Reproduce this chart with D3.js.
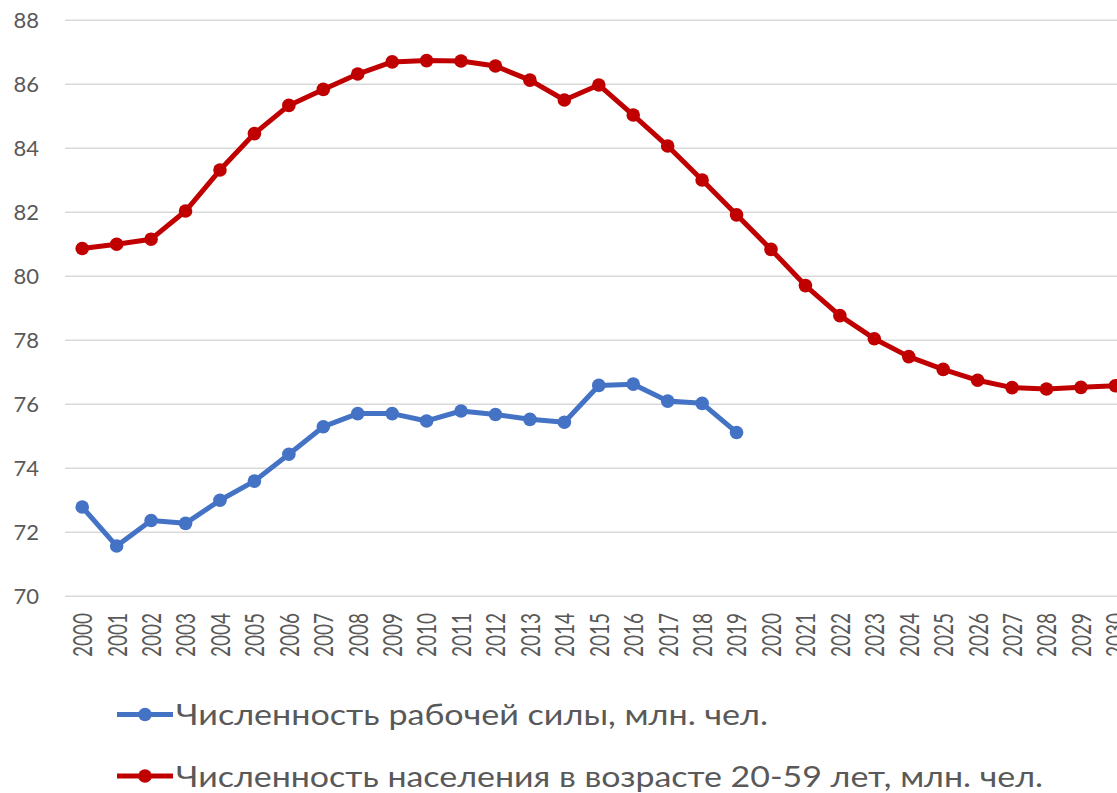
<!DOCTYPE html>
<html>
<head>
<meta charset="utf-8">
<script src="https://cdn.jsdelivr.net/npm/d3@7"></script>
<style>
  body { margin: 0; background: #fff; }
  svg { display: block; }
  text { font-family: Lato, "Open Sans", sans-serif; fill: #595959; }
</style>
</head>
<body>
<svg id="chart" width="1117" height="793"></svg>
<script>
`use strict`;

const years = d3.range(2000, 2031).map(String);

// Численность рабочей силы (2000-2019)
const labourForce = [72.79, 71.57, 72.37, 72.28, 73.00, 73.60, 74.44, 75.30, 75.71, 75.71,
  75.48, 75.79, 75.68, 75.53, 75.44, 76.59, 76.63, 76.10, 76.03, 75.12];

// Численность населения 20-59 лет (2000-2030)
const population = [80.87, 81.00, 81.16, 82.04, 83.32, 84.46, 85.34, 85.84, 86.32, 86.70,
  86.74, 86.73, 86.57, 86.13, 85.51, 85.98, 85.04, 84.07, 83.01, 81.92,
  80.84, 79.71, 78.77, 78.05, 77.49, 77.09, 76.75, 76.52, 76.48, 76.53, 76.58];

const yTicks = [70, 72, 74, 76, 78, 80, 82, 84, 86, 88];

const legendNames = [`Численность рабочей силы, млн. чел.`, `Численность населения в возрасте 20-59 лет, млн. чел.`];

const BLUE = `#4472C4`, RED = `#C00000`;

(function () {

  const svg = d3.select(`#chart`);

  const x = d3.scalePoint()
    .domain(years)
    .range([65, 1132.6])
    .padding(0.5);

  const y = d3.scaleLinear()
    .domain([70, 88])
    .range([596.3, 20.3]);

  // grid
  svg.append(`g`).selectAll(`line`).data(yTicks)
    .enter()
    .append(`line`)
    .attr(`x1`, 65)
    .attr(`x2`, 1133)
    .attr(`y1`, d => y(d))
    .attr(`y2`, d => y(d))
    .attr(`stroke`, `#d9d9d9`)
    .style(`stroke-width`, 1.4);

  // y labels
  let yAxis = svg.append(`g`)
    .attr(`transform`, `translate(39,0)`)
    .call(d3.axisLeft(y).tickValues(yTicks).tickSize(0).tickPadding(0));

  yAxis.select(`.domain`).remove();

  yAxis.selectAll(`text`)
    .style(`font-size`, `22px`)
    .style(`font-family`, `Lato, sans-serif`)
    .attr(`fill`, `#595959`);

  // x labels
  let xAxis = svg.append(`g`)
    .attr(`transform`, `translate(0,613)`)
    .call(d3.axisBottom(x).tickSize(0).tickPadding(0));

  xAxis.select(`.domain`).remove();

  xAxis.selectAll(`text`)
    .attr(`y`, 0)
    .attr(`dy`, `0.36em`)
    .attr(`transform`, `rotate(-90) scale(1,1.37)`)
    .style(`text-anchor`, `end`)
    .style(`font-size`, `19px`)
    .style(`font-family`, `Lato, sans-serif`)
    .attr(`fill`, `#595959`);

  let drawSeries = (vals, colour) => {

    let pts = vals.map((v, i) => [years[i], v]);

    let line = d3.line()
      .x(d => x(d[0]))
      .y(d => y(d[1]));

    svg.append(`path`)
      .datum(pts)
      .attr(`d`, line)
      .attr(`fill`, `none`)
      .attr(`stroke`, colour)
      .attr(`stroke-linejoin`, `round`)
      .style(`stroke-width`, 5);

    svg.append(`g`).selectAll(`circle`).data(pts)
      .enter()
      .append(`circle`)
      .attr(`cx`, d => x(d[0]))
      .attr(`cy`, d => y(d[1]))
      .attr(`r`, 6.8)
      .attr(`fill`, colour);
  }

  drawSeries(population, RED);
  drawSeries(labourForce, BLUE);

  // legend
  const legendRows = [
    {name: legendNames[0], colour: BLUE, y: 714.5, len: 592},
    {name: legendNames[1], colour: RED, y: 776, len: 867}
  ];

  let lg = svg.append(`g`).selectAll(`g`).data(legendRows)
    .enter()
    .append(`g`)
    .attr(`transform`, d => `translate(0,${d.y})`);

  lg.append(`line`)
    .attr(`x1`, 117)
    .attr(`x2`, 173)
    .attr(`stroke`, d => d.colour)
    .style(`stroke-width`, 5);

  lg.append(`circle`)
    .attr(`cx`, 145)
    .attr(`r`, 6.8)
    .attr(`fill`, d => d.colour);

  lg.append(`text`)
    .attr(`x`, 176)
    .attr(`y`, 10.5)
    .attr(`textLength`, d => d.len)
    .attr(`lengthAdjust`, `spacingAndGlyphs`)
    .style(`font-size`, `29px`)
    .text(d => d.name);

})();
</script>
</body>
</html>
